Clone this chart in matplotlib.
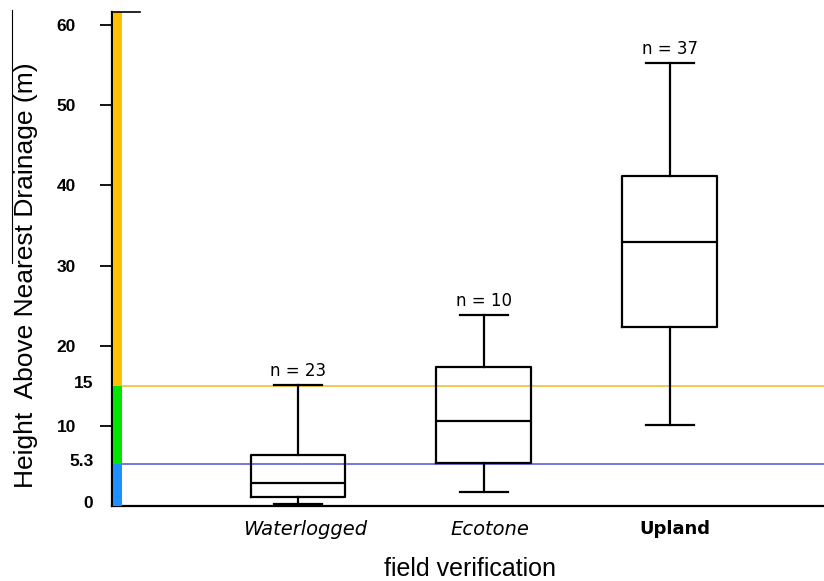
import matplotlib
matplotlib.use('Agg')
import matplotlib.pyplot as plt
from matplotlib.lines import Line2D

# box statistics (m)
categories = ['Waterlogged', 'Ecotone', 'Upland']
whislo = [0.25, 1.75, 10.1]
q1 = [1.1, 5.35, 22.3]
med = [2.85, 10.6, 32.9]
q3 = [6.35, 17.3, 41.2]
whishi = [15.1, 23.8, 55.3]
counts = [23, 10, 37]

# thresholds marked on the axis
upper_thr = 15
lower_thr = 5.3
y_ticks = [10, 20, 30, 40, 50, 60]

if __name__ == '__main__':
    fig = plt.figure(figsize=(8.24, 5.81), dpi=100)
    ax = fig.add_axes([0.136, 0.129, 0.864, 0.850])

    stats = []
    for i, name in enumerate(categories):
        stats.append({'label': name, 'whislo': whislo[i], 'q1': q1[i], 'med': med[i],
                      'q3': q3[i], 'whishi': whishi[i], 'fliers': []})
    pos = [1, 2, 3]
    ax.bxp(stats, positions=pos, widths=0.51, showfliers=False,
           boxprops=dict(color='black', linewidth=1.6),
           medianprops=dict(color='black', linewidth=1.6),
           whiskerprops=dict(color='black', linewidth=1.6),
           capprops=dict(color='black', linewidth=1.6),
           capwidths=0.26)

    ymax = 61.6
    ax.set_xlim(0, 3.83)
    ax.set_ylim(0, ymax)

    # threshold lines
    ax.axhline(upper_thr, color='#F5C542', linewidth=1.3, zorder=1)
    ax.axhline(lower_thr, color='#6A6ADF', linewidth=1.3, zorder=1)

    # coloured bar along the y axis
    bx = [0.003, 0.052]
    ax.fill_between(bx, 0, lower_thr, color='#1E90FF', zorder=3, linewidth=0)
    ax.fill_between(bx, lower_thr, upper_thr, color='#00E600', zorder=3, linewidth=0)
    ax.fill_between(bx, upper_thr, ymax, color='#FFC000', zorder=3, linewidth=0)

    # n labels
    for i, n in enumerate(counts):
        ax.text(pos[i], whishi[i] + 0.6, 'n = %d' % n, ha='center', va='bottom',
                fontsize=12, family=['DejaVu Sans'])

    # spines and ticks
    ax.spines['top'].set_visible(False)
    ax.spines['right'].set_visible(False)
    ax.spines['left'].set_linewidth(1.6)
    ax.spines['bottom'].set_linewidth(1.6)
    ax.set_yticks(y_ticks)
    ax.set_yticklabels([str(t) for t in y_ticks], fontweight='semibold', fontsize=12.5,
                       family=['Liberation Sans', 'DejaVu Sans'])
    ax.tick_params(axis='y', direction='out', length=9, width=1.3, pad=17)
    ax.set_xticks(pos)
    ax.set_xticklabels([])
    ax.tick_params(axis='x', length=0)

    # extra threshold labels next to the axis
    for val, txt in [(upper_thr, '15'), (lower_thr, '5.3'), (0, '0')]:
        ax.text(-0.1, val + 0.3, txt, ha='right', va='center', fontsize=12.5,
                fontweight='bold', family=['Liberation Sans', 'DejaVu Sans'],
                transform=ax.transData, clip_on=False)

    # category labels
    styles = [('italic', 'normal', 14), ('italic', 'normal', 14), ('normal', 'bold', 13)]
    for i, name in enumerate(categories):
        ax.text(pos[i] + (0.04 if i == 0 else 0.03), -1.7, name, ha='center', va='top',
                fontsize=styles[i][2], fontstyle=styles[i][0], fontweight=styles[i][1],
                family=['DejaVu Sans'])

    fig.text(0.570, 0.021, 'field verification', ha='center', va='center',
             fontsize=18, family=['Liberation Sans', 'DejaVu Sans'])
    fig.text(0.032, 0.527, 'Height  Above Nearest Drainage (m)', ha='center',
             va='center', rotation=90, fontsize=19,
             family=['Liberation Sans', 'DejaVu Sans'])

    # leftover crop border lines from the source image
    fig.add_artist(Line2D([12 / 824, 12 / 824], [1 - 10 / 581, 1 - 263 / 581],
                          color='black', linewidth=0.8))
    fig.add_artist(Line2D([112 / 824, 140 / 824], [1 - 12 / 581, 1 - 12 / 581],
                          color='black', linewidth=1.2))

    plt.savefig('out.png', dpi=100)
